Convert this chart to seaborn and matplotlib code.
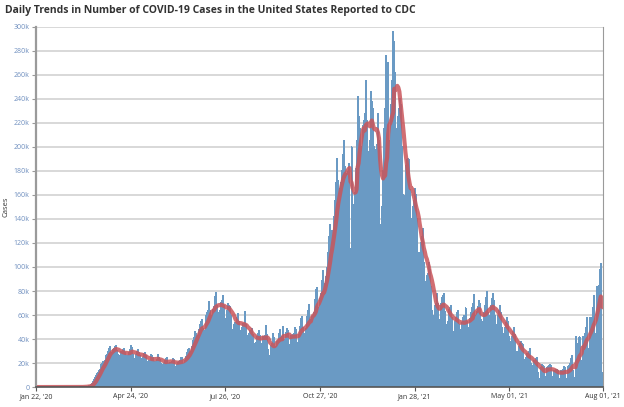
import numpy as np
import pandas as pd
import seaborn as sns
import matplotlib.pyplot as plt
from matplotlib.ticker import FuncFormatter

# daily new cases reported to CDC, in thousands, one list per month
jan20 = [0, 0, 0, 0, 0, 0, 0, 0, 0, 0]
feb20 = [0, 0, 0, 0, 0, 0, 0, 0, 0, 0, 0, 0, 0, 0, 0, 0, 0, 0, 0, 0,
         0, 0, 0, 0, 0, 0, 0, 0, 0.01]
mar20 = [0.01, 0.02, 0.03, 0.04, 0.06, 0.1, 0.12,
         0.15, 0.2, 0.3, 0.4, 0.5, 0.7, 0.9,
         1.2, 1.8, 2.8, 4.5, 6.0, 8.0, 9.5,
         11.0, 12.0, 13.5, 15.0, 18.5, 20.0, 21.0,
         20.0, 22.5, 26.0]
apr20 = [27.0, 29.5, 32.0, 33.5,
         27.5, 29.0, 31.0, 32.5, 34.0, 34.5, 30.5,
         27.0, 25.5, 26.5, 29.5, 31.0, 32.0, 28.5,
         25.5, 26.5, 25.0, 29.0, 31.5, 34.5, 33.0,
         27.0, 23.5, 24.0, 27.5, 30.0]
may20 = [31.0, 28.5,
         26.0, 22.5, 23.5, 25.0, 28.0, 29.0, 26.0,
         21.0, 19.0, 22.0, 21.5, 27.0, 26.5, 25.0,
         20.5, 21.0, 21.5, 23.0, 27.5, 24.5, 23.0,
         19.5, 18.0, 18.5, 20.0, 22.5, 24.0, 25.0,
         20.0]
jun20 = [17.5, 20.5, 20.0, 21.5, 24.0, 23.0,
         17.5, 17.0, 18.5, 21.0, 22.5, 25.0, 24.5,
         19.5, 19.0, 22.5, 25.5, 28.5, 31.0, 32.5,
         27.0, 29.5, 34.0, 38.5, 41.0, 46.0, 45.0,
         42.0, 43.0, 48.0]
jul20 = [52.0, 55.0, 56.0, 49.0,
         43.0, 47.0, 60.0, 62.0, 64.0, 71.0, 64.0,
         58.5, 60.0, 64.5, 67.5, 75.5, 79.0, 68.0,
         62.0, 61.5, 64.0, 70.5, 72.0, 76.0, 68.0,
         57.0, 56.0, 63.5, 70.0, 68.0, 67.5]
aug20 = [60.0,
         48.0, 46.0, 52.0, 54.0, 58.0, 61.0, 55.0,
         46.0, 47.0, 50.0, 53.0, 52.0, 63.0, 52.0,
         43.0, 37.5, 45.0, 47.0, 46.0, 48.5, 44.0,
         36.0, 34.0, 37.0, 42.5, 44.5, 47.0, 43.0,
         34.5, 36.0]
sep20 = [42.0, 40.0, 43.0, 51.0, 43.5,
         31.0, 24.0, 26.0, 34.5, 36.5, 45.0, 41.0,
         34.0, 33.0, 38.0, 38.5, 44.5, 48.0, 42.0,
         35.0, 50.5, 39.0, 40.0, 45.5, 48.5, 47.5,
         35.5, 34.0, 43.0, 40.0]
oct20 = [45.0, 49.5, 48.0,
         35.0, 37.0, 43.5, 50.5, 57.0, 58.5, 49.5,
         45.0, 38.0, 49.0, 59.0, 63.5, 69.0, 56.5,
         48.0, 58.5, 60.0, 62.5, 73.0, 81.5, 83.0,
         61.0, 66.0, 74.0, 78.0, 89.0, 97.0, 86.0]
nov20 = [80, 92, 100, 112, 125, 135, 130,
         112, 130, 142, 155, 170, 190, 172,
         145, 165, 170, 180, 194, 205, 184,
         150, 178, 180, 186, 115, 200, 152,
         138, 162]
dec20 = [182, 205, 242, 225, 215,
         188, 200, 218, 222, 228, 255, 222,
         192, 196, 205, 246, 238, 232, 200,
         185, 198, 202, 228, 205, 116, 135,
         150, 180, 215, 232, 276]
jan21 = [150, 270,
         205, 190, 235, 255, 296, 288, 262,
         215, 205, 225, 232, 240, 235, 200,
         160, 140, 160, 185, 190, 190, 165,
         130, 140, 150, 155, 165, 160, 140,
         110]
feb21 = [112, 108, 120, 125, 132, 104,
         88, 84, 93, 95, 104, 98, 84,
         64, 56, 60, 68, 70, 78, 70,
         55, 56, 70, 75, 76, 78, 63,
         52]
mar21 = [50, 55, 65, 66, 68, 58,
         42, 46, 55, 58, 62, 64, 52,
         38, 48, 54, 58, 60, 66, 55,
         40, 50, 57, 62, 66, 70, 77,
         45, 60, 63, 67]
apr21 = [72, 70, 56,
         38, 55, 62, 68, 75, 80, 62,
         46, 60, 68, 74, 78, 72, 60,
         42, 52, 60, 64, 68, 62, 50,
         34, 45, 50, 54, 58, 55]
may21 = [42,
         25, 38, 42, 46, 50, 44, 30,
         17, 30, 34, 36, 38, 36, 23,
         12, 25, 28, 27, 30, 32, 20,
         8, 18, 22, 22, 24, 25, 12,
         7, 7]
jun21 = [16, 19, 18, 17, 9,
         7, 16, 17, 18, 19, 18, 9,
         6, 14, 14, 15, 15, 14, 7,
         5, 14, 14, 15, 17, 16, 7,
         5, 17, 18, 20]
jul21 = [24, 26, 14,
         6, 8, 42, 32, 36, 42, 22,
         14, 42, 40, 45, 50, 58, 32,
         20, 58, 52, 58, 66, 76, 45,
         35, 84, 78, 85, 98, 103, 12]
aug21 = [5]

months = [jan20, feb20, mar20, apr20, may20, jun20, jul20, aug20, sep20,
          oct20, nov20, dec20, jan21, feb21, mar21, apr21, may21, jun21,
          jul21, aug21]

tick_dates = ["2020-01-22", "2020-04-24", "2020-07-26", "2020-10-27",
              "2021-01-28", "2021-05-01", "2021-08-01"]

cases = np.concatenate([np.array(m, dtype=float) for m in months]) * 1000
dates = pd.date_range("2020-01-22", periods=len(cases), freq="D")
df = pd.DataFrame({"date": dates, "cases": cases})
df["day"] = (df["date"] - dates[0]).dt.days
df["avg"] = df["cases"].rolling(7, min_periods=1).mean()

sns.set_style("white")
plt.rcParams["font.family"] = ["Open Sans", "DejaVu Sans"]

fig = plt.figure(figsize=(6.24, 4.07), dpi=100)
ax = fig.add_axes([0.0577, 0.049, 0.9085, 0.885])

ax.yaxis.grid(True, color="#d6d6d6", linewidth=1.3, zorder=0)
ax.set_axisbelow(True)

# bars are ~1px wide: no snapping and no antialiasing, else they vanish or fade
sns.barplot(data=df, x="day", y="cases", native_scale=True, errorbar=None,
            color="#6a9ac4", saturation=1, width=1.0, linewidth=0,
            snap=False, antialiased=False, ax=ax)
sns.lineplot(data=df, x="day", y="avg", color="#c9555a", alpha=0.85,
             linewidth=3, ax=ax)

ax.set_ylim(0, 300000)
ax.set_xlim(0, df["day"].iloc[-1])
ax.set_yticks(np.arange(0, 300001, 20000))
ax.yaxis.set_major_formatter(FuncFormatter(lambda v, p: "0" if v == 0 else f"{v/1000:.0f}k"))

tick_pos = [(pd.Timestamp(d) - dates[0]).days for d in tick_dates]
ax.set_xticks(tick_pos)
ax.set_xticklabels([pd.Timestamp(d).strftime("%b %d, '%y") for d in tick_dates])

ax.tick_params(axis="y", labelsize=5, labelcolor="#6f8fbf", color="#999999",
               length=3, width=0.8, left=True, pad=1.5)
ax.tick_params(axis="x", labelsize=5, labelcolor="#333333", color="#555555",
               length=3, width=0.8, bottom=True, pad=1.5)

ax.spines["top"].set_visible(False)
ax.spines["left"].set_color("#9a9a9a")
ax.spines["left"].set_linewidth(1.6)
ax.spines["bottom"].set_color("#555555")
ax.spines["bottom"].set_linewidth(1.2)
ax.spines["right"].set_color("#9a9a9a")
ax.spines["right"].set_linewidth(0.8)

ax.set_xlabel("")
ax.set_ylabel("Cases", fontsize=5.5, color="#333333")
ax.yaxis.set_label_coords(-0.046, 0.5)

fig.text(0.008, 0.975, "Daily Trends in Number of COVID-19 Cases in the United States Reported to CDC",
         fontsize=7.5, fontweight="bold", color="#333333", va="center", ha="left")

fig.savefig("out.png", dpi=100)
